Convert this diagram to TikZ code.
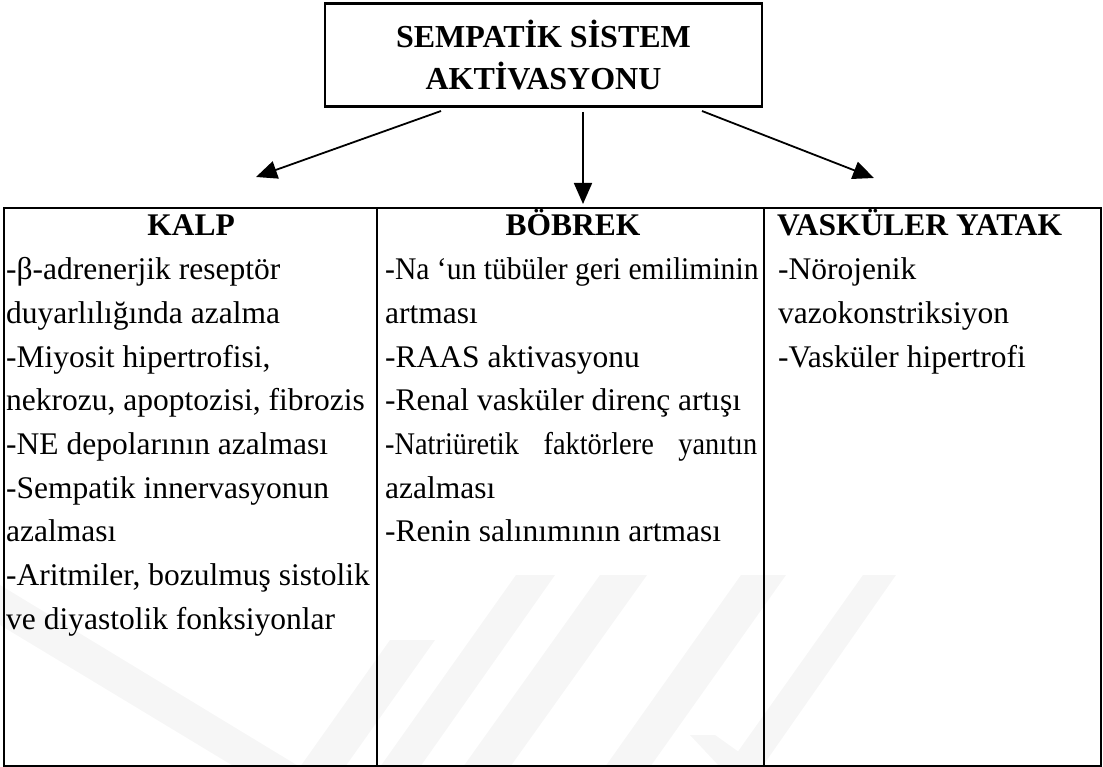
\documentclass[tikz,border=0pt]{standalone}
\usepackage{fontspec}
\setmainfont{Liberation Serif}
\usetikzlibrary{arrows.meta}
\begin{document}
\begin{tikzpicture}[x=1pt,y=-1pt,
  titlebox/.style={draw=black, line width=2.5pt, minimum width=437pt, minimum height=103pt,
    inner sep=0pt, align=center, font=\fontsize{32}{42}\selectfont\bfseries},
  cellbox/.style={draw=black, line width=2pt, anchor=north west, inner sep=0pt, minimum height=558pt},
  txt/.style={anchor=base west, inner sep=0pt, font=\fontsize{31.5}{40}\selectfont},
  hdr/.style={inner sep=0pt, font=\fontsize{31.5}{40}\selectfont\bfseries},
  arr/.style={line width=1.8pt, -{Triangle[length=21pt,width=18pt]}},
  wm/.style={fill=black!3.5, draw=none}
]
\useasboundingbox (0,0) rectangle (1103,767);

% faint watermark bands
\fill[wm] (0,585) -- (0,625) -- (235,767) -- (300,767) -- cycle;
\fill[wm] (300,767) -- (345,767) -- (435,640) -- (390,640) -- cycle;
\fill[wm] (380,767) -- (420,767) -- (555,575) -- (516,575) -- cycle;
\fill[wm] (463,767) -- (510,767) -- (647,575) -- (600,575) -- cycle;
\fill[wm] (605,767) -- (650,767) -- (786,575) -- (741,575) -- cycle;
\fill[wm] (727,767) -- (762,767) -- (896,575) -- (863,575) -- cycle;
\fill[wm] (690,735) -- (715,735) -- (760,767) -- (720,767) -- cycle;

% title
\node[titlebox] (title) at (543.5,55) {SEMPATİK SİSTEM\\AKTİVASYONU};

% table cells
\node[cellbox, minimum width=373pt] (c1) at (3,207) {};
\node[cellbox, minimum width=387pt] (c2) at (376,207) {};
\node[cellbox, minimum width=337pt] (c3) at (763,207) {};

% headers
\node[hdr, anchor=base] (h1) at (191,236) {KALP};
\node[hdr, anchor=base] (h2) at (573,236) {BÖBREK};
\node[hdr, anchor=base west] (h3) at (777,236) {VASKÜLER YATAK};

% column 1
\foreach \t [count=\i] in {{-β-adrenerjik reseptör},{duyarlılığında azalma},{-Miyosit hipertrofisi,},
  {nekrozu, apoptozisi, fibrozis},{-NE depolarının azalması},{-Sempatik innervasyonun},
  {azalması},{-Aritmiler, bozulmuş sistolik},{ve diyastolik fonksiyonlar}}
  \node[txt] (k\i) at (6,{236+43.7*\i}) {\t};

% column 2
\foreach \t [count=\i] in {{\scalebox{0.94}[1]{-Na ‘un tübüler geri emiliminin}},{artması},{-RAAS aktivasyonu},
  {-Renal vasküler direnç artışı},
  {\makebox[372pt][s]{\scalebox{0.9}[1]{-Natriüretik} \scalebox{0.9}[1]{faktörlere} \scalebox{0.9}[1]{yanıtın}}},
  {azalması},{-Renin salınımının artması}}
  \node[txt] (b\i) at (385,{236+43.7*\i}) {\t};

% column 3
\foreach \t [count=\i] in {{-Nörojenik},{vazokonstriksiyon},{-Vasküler hipertrofi}}
  \node[txt] (v\i) at (778,{236+43.7*\i}) {\t};

% arrows
\coordinate (s1) at (441,111);
\coordinate (s2) at (583,112);
\coordinate (s3) at (702,111);
\coordinate (e1) at (256,177);
\coordinate (e2) at (583,204);
\coordinate (e3) at (874,178);
\draw[arr] (s1) -- (e1);
\draw[arr] (s2) -- (e2);
\draw[arr] (s3) -- (e3);
\end{tikzpicture}
\end{document}
